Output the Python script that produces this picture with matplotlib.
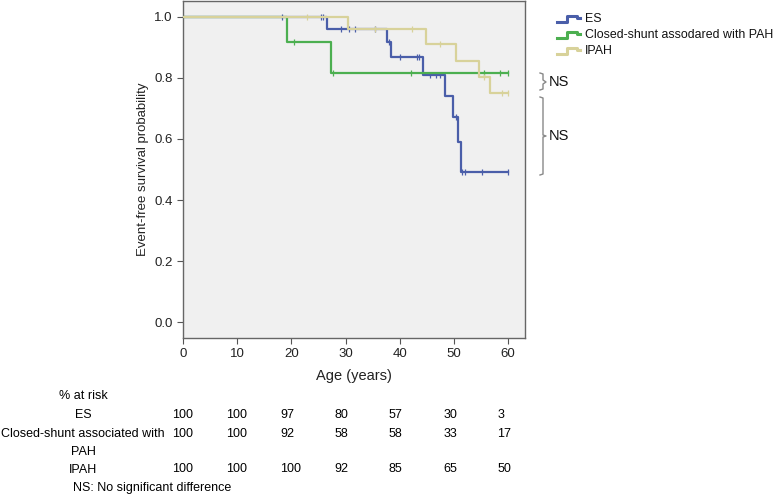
import matplotlib
matplotlib.use('Agg')
import matplotlib.pyplot as plt
import matplotlib.transforms as mtransforms
from matplotlib.lines import Line2D

plt.rcParams['font.family'] = ['Liberation Sans', 'DejaVu Sans']

# ---------------- data ----------------
# step times (start of each level) and survival levels; curves end at 60
es_times = [0, 26.5, 37.7, 38.3, 44.2, 48.3, 49.9, 50.8, 51.2]
es_surv = [1.0, 0.96, 0.917, 0.867, 0.811, 0.742, 0.673, 0.589, 0.493]
es_cens = [18.2, 25.5, 25.9, 29.2, 30.7, 31.7, 35.4, 38.0, 40.0, 43.1, 43.5,
           45.5, 46.7, 47.4, 50.3, 51.4, 52.0, 55.2, 60.0]

cs_times = [0, 19.1, 27.3]
cs_surv = [1.0, 0.917, 0.815]
cs_cens = [20.4, 27.7, 42.1, 55.5, 58.5, 60.0]

ip_times = [0, 30.5, 44.8, 50.3, 54.7, 56.6]
ip_surv = [1.0, 0.96, 0.91, 0.857, 0.804, 0.75]
ip_cens = [22.8, 35.4, 42.2, 47.4, 55.6, 58.9, 60.0]

end_time = 60.0

groups = ['ES', 'Closed-shunt assodared with PAH', 'IPAH']
colors = ['#4a5ea9', '#4caf50', '#d8d29a']

risk_ticks = [0, 10, 20, 30, 40, 50, 60]
risk_es = [100, 100, 97, 80, 57, 30, 3]
risk_cs = [100, 100, 92, 58, 58, 33, 17]
risk_ip = [100, 100, 100, 92, 85, 65, 50]

W, H = 779, 503
fig = plt.figure(figsize=(W / 100, H / 100), dpi=100)


def fx(px):
    return px / W


def fy(py):
    return 1 - py / H


ax = fig.add_axes([fx(183), fy(338), fx(525) - fx(183), fy(1) - fy(338)])
ax.set_facecolor('#f0f0f0')
ax.set_xlim(0, 63.1)
ax.set_ylim(-0.052, 1.052)


def step_curve(times, surv, cens, color, z):
    xs = list(times) + [end_time]
    ys = list(surv) + [surv[-1]]
    ax.step(xs, ys, where='post', color=color, lw=1.6, zorder=z)
    # censor marks sit on the curve
    cy = []
    for c in cens:
        v = surv[0]
        for t, s in zip(times, surv):
            if c >= t:
                v = s
        cy.append(v)
    ax.plot(cens, cy, ls='none', marker='|', ms=4.5, mew=0.9, color=color, zorder=z)


step_curve(es_times, es_surv, es_cens, colors[0], 3)
step_curve(cs_times, cs_surv, cs_cens, colors[1], 4)
step_curve(ip_times, ip_surv, ip_cens, colors[2], 5)

ax.set_xticks(risk_ticks)
ax.set_yticks([0.0, 0.2, 0.4, 0.6, 0.8, 1.0])
ax.set_yticklabels(['0.0', '0.2', '0.4', '0.6', '0.8', '1.0'])
ax.tick_params(direction='out', length=4, width=0.8, colors='#555555',
               labelcolor='#222222', labelsize=9.5)
for sp in ax.spines.values():
    sp.set_color('#666666')
    sp.set_linewidth(1.0)
ax.set_xlabel('Age (years)', fontsize=10.5, color='#222222', labelpad=6)
ax.set_ylabel('Event-free survival probability', fontsize=9.5, color='#222222', labelpad=4)

# ---------------- legend with step icons ----------------
leg_rows = [19, 35, 51]
for name, col, py in zip(groups, colors, leg_rows):
    xs = [fx(557), fx(567), fx(567), fx(577), fx(577), fx(580)]
    ys = [fy(py + 3), fy(py + 3), fy(py - 3), fy(py - 3), fy(py - 1), fy(py - 1)]
    fig.add_artist(Line2D(xs, ys, color=col, lw=2.2, transform=fig.transFigure))
    fig.text(fx(585), fy(py), name, fontsize=8.9, va='center', ha='left', color='#111111')

# ---------------- NS brackets ----------------
brk = '#888888'
small = [(540, 73), (543, 74), (543, 80), (546, 82), (543, 84), (543, 89), (540, 90)]
big = [(540, 97), (543, 98), (543, 135), (546, 136), (543, 137), (543, 174), (540, 175)]
for pts in (small, big):
    fig.add_artist(Line2D([fx(p[0]) for p in pts], [fy(p[1]) for p in pts],
                          color=brk, lw=1.0, transform=fig.transFigure))
fig.text(fx(549), fy(82), 'NS', fontsize=10.5, va='center', ha='left', color='#111111')
fig.text(fx(549), fy(136), 'NS', fontsize=10.5, va='center', ha='left', color='#111111')

# ---------------- numbers at risk table ----------------
trans = mtransforms.blended_transform_factory(ax.transData, fig.transFigure)
fs = 9
fig.text(fx(83), fy(396), '% at risk', fontsize=fs, ha='center', va='center')
fig.text(fx(83), fy(415), 'ES', fontsize=fs, ha='center', va='center')
fig.text(fx(83), fy(434), 'Closed-shunt associated with', fontsize=fs, ha='center', va='center')
fig.text(fx(83), fy(452), 'PAH', fontsize=fs, ha='center', va='center')
fig.text(fx(83), fy(470), 'IPAH', fontsize=fs, ha='center', va='center')
for row, py in zip([risk_es, risk_cs, risk_ip], [415, 434, 469]):
    for t, v in zip(risk_ticks, row):
        ax.text(t - 2, fy(py), str(v), transform=trans, fontsize=fs,
                ha='left', va='center', clip_on=False)
fig.text(fx(73), fy(488), 'NS: No significant difference', fontsize=fs, ha='left', va='center')

fig.savefig('out.png', dpi=100)
